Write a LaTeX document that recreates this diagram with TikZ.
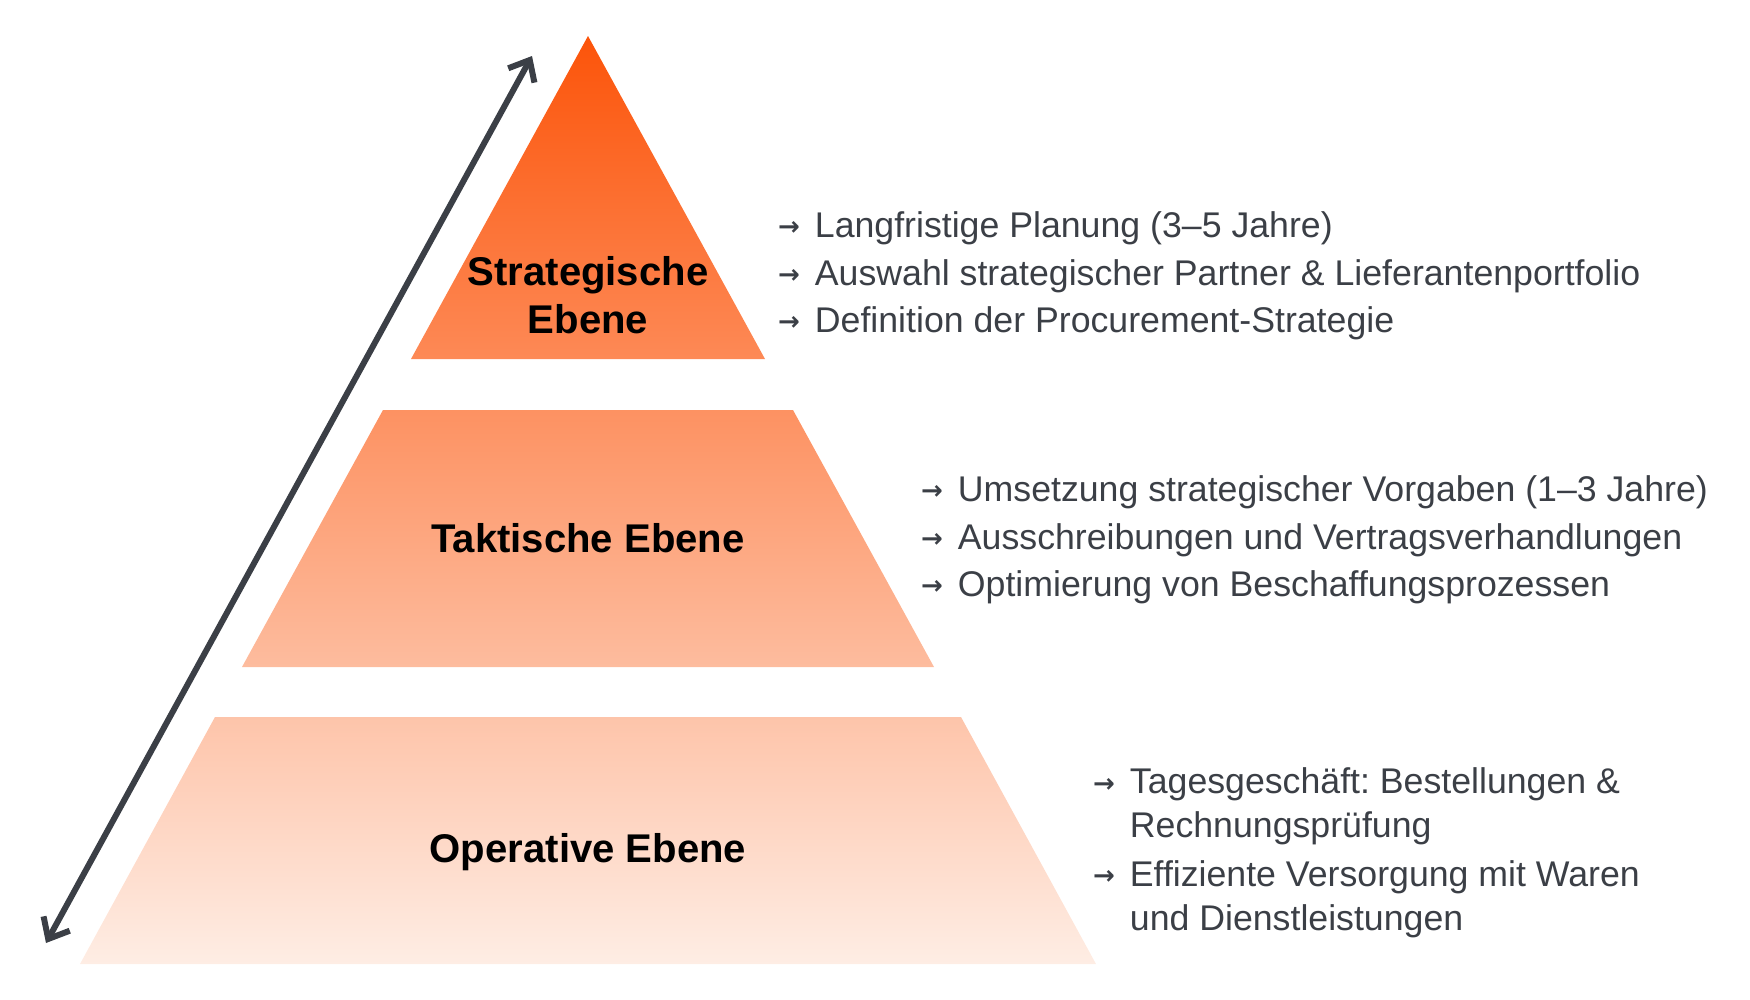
\documentclass[tikz,border=0pt]{standalone}
\usepackage{fontspec}
\setmainfont{Liberation Sans}
\newfontfamily\arrowfont{DejaVu Sans}
\usetikzlibrary{arrows.meta,positioning}
\frenchspacing

\definecolor{pyrTop}{RGB}{252,84,10}
\definecolor{pyrBot}{RGB}{254,237,228}
\definecolor{darkGray}{RGB}{59,63,70}

\newcommand{\procarrow}{\makebox[10.5pt][l]{\raisebox{0.5pt}{\arrowfont\bfseries\fontsize{7.4}{7.4}\selectfont →}}}

\begin{document}
\begin{tikzpicture}[
  x=0.01cm, y=-0.01cm,
  every node/.style = {inner sep=0pt, outer sep=0pt},
  LevelLabel/.style = {font=\fontsize{11.4}{13.7}\selectfont\bfseries, align=center, text=black},
  BulletText/.style = {font=\fontsize{10.15}{12.5}\selectfont, text=darkGray, anchor=west, align=left}
  ]
  \useasboundingbox (0,0) rectangle (1750,1000);

  % pyramid, one shading over the three tiers
  \shade[top color=pyrTop, bottom color=pyrBot]
    (588,36) -- (765,359) -- (411,359) -- cycle
    (383,410) -- (793,410) -- (934,667) -- (242,667) -- cycle
    (215,717) -- (961,717) -- (1096,964) -- (80,964) -- cycle;

  \node[LevelLabel] (strat) at (588,295) {Strategische\\Ebene};
  \node[LevelLabel] (takt) at (588,538) {Taktische Ebene};
  \node[LevelLabel] (oper) at (588,852) {Operative Ebene};

  \node[BulletText] (stratText) at (778,276)
    {\procarrow Langfristige Planung (3–5 Jahre)\\[1pt]
     \procarrow Auswahl strategischer Partner \& Lieferantenportfolio\\[1pt]
     \procarrow Definition der Procurement-Strategie};
  \node[BulletText] (taktText) at (921,540)
    {\procarrow Umsetzung strategischer Vorgaben (1–3 Jahre)\\[1pt]
     \procarrow Ausschreibungen und Vertragsverhandlungen\\[1pt]
     \procarrow Optimierung von Beschaffungsprozessen};
  \node[BulletText] (operText) at (1093,853)
    {\procarrow Tagesgeschäft: Bestellungen \&\\
     \hspace*{10.5pt}Rechnungsprüfung\\[1.4pt]
     \procarrow Effiziente Versorgung mit Waren\\
     \hspace*{10.5pt}und Dienstleistungen};

  \tikzset{SpanArrow/.style = {darkGray, line width=1.7pt,
    {Straight Barb[length=5pt,width=8.5pt]}-{Straight Barb[length=5pt,width=8.5pt]}}}
  \coordinate (arrTop) at (532,56);
  \coordinate (arrBot) at (46,943);
  \draw[SpanArrow] (arrBot) -- (arrTop);
\end{tikzpicture}
\end{document}
